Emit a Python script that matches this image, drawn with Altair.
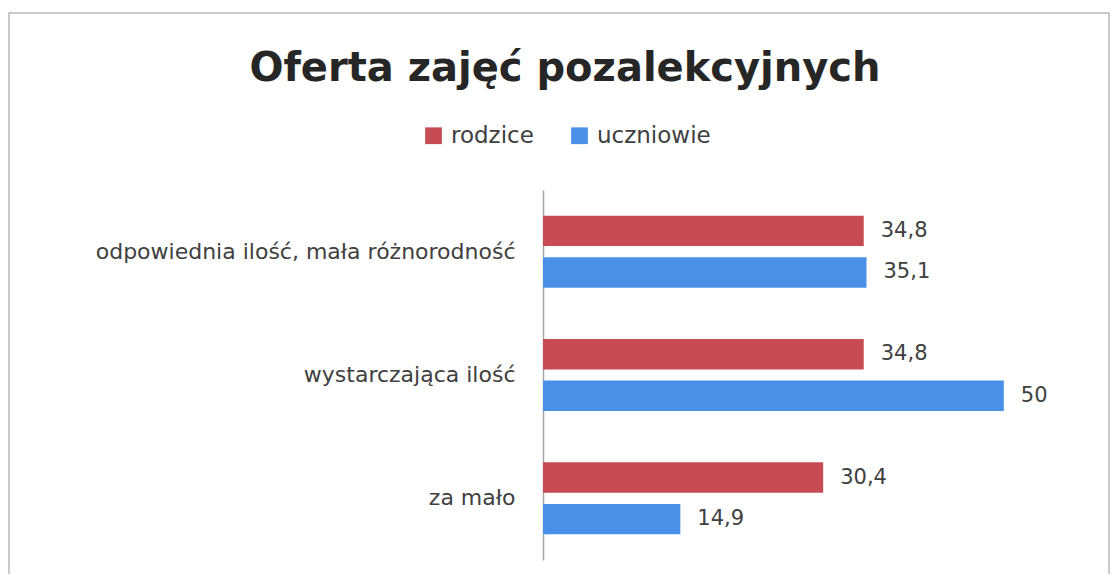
import altair as alt
import pandas as pd

categories = ["odpowiednia ilość, mała różnorodność", "wystarczająca ilość", "za mało"]
series = ["rodzice", "uczniowie"]
rodzice = [34.8, 34.8, 30.4]
uczniowie = [35.1, 50, 14.9]
colors = ["#C64B55", "#4A90E8"]
title_text = "Oferta zajęć pozalekcyjnych"

rows = []
for i, c in enumerate(categories):
    rows.append({"kategoria": c, "grupa": series[0], "wartosc": rodzice[i]})
    rows.append({"kategoria": c, "grupa": series[1], "wartosc": uczniowie[i]})
df = pd.DataFrame(rows)
df["etykieta"] = df["wartosc"].map(lambda v: (f"{v:g}").replace(".", ","))

FONT = "DejaVu Sans"
TXT = "#404040"

y_enc = alt.Y(
    "kategoria:N",
    sort=categories,
    title=None,
    scale=alt.Scale(paddingInner=0.416, paddingOuter=0.208),
    axis=alt.Axis(
        ticks=False,
        grid=False,
        domainColor="#A6A6A6",
        domainWidth=1.5,
        labelFont=FONT,
        labelFontSize=22,
        labelColor=TXT,
        labelPadding=28,
        labelLimit=600,
    ),
)
yoff = alt.YOffset("grupa:N", sort=series, scale=alt.Scale(paddingInner=0.27, paddingOuter=0))
x_enc = alt.X("wartosc:Q", title=None, axis=None, scale=alt.Scale(domain=[0, 60], nice=False))

base = alt.Chart(df)

bars = base.mark_bar().encode(
    y=y_enc,
    yOffset=yoff,
    x=x_enc,
    color=alt.Color(
        "grupa:N",
        sort=series,
        scale=alt.Scale(domain=series, range=colors),
        legend=alt.Legend(
            title=None,
            orient="none",
            direction="horizontal",
            legendX=-121,
            legendY=-66,
            symbolType="square",
            symbolSize=280,
            symbolStrokeWidth=0,
            labelFont=FONT,
            labelFontSize=23,
            labelColor=TXT,
            columnPadding=34,
            labelOffset=6,
        ),
    ),
)

labels = base.mark_text(align="left", baseline="middle", dx=17, font=FONT, fontSize=21, color=TXT).encode(
    y=alt.Y("kategoria:N", sort=categories),
    yOffset=yoff,
    x=x_enc,
    text="etykieta:N",
)

one = pd.DataFrame({"t": [title_text]})
frame = alt.Chart(one).mark_rect(
    fill=None, stroke="#B8B8B8", strokeWidth=1.5
).encode(
    x=alt.value(-534), x2=alt.value(566), y=alt.value(-177), y2=alt.value(420)
)

title = alt.Chart(one).mark_text(
    font=FONT, fontSize=40, fontWeight="bold", color="#262626", align="center", baseline="alphabetic"
).encode(x=alt.value(22), y=alt.value(-109), text="t:N")

chart = (
    alt.layer(frame, title, bars, labels)
    .properties(
        width=553,
        height=370,
        padding={"left": 535, "top": 182, "right": 14, "bottom": 14},
        autosize=alt.AutoSizeParams(type="none"),
        background="white",
    )
    .configure_view(strokeWidth=0, stroke="transparent")
)

chart.save("out.html", embed_options={"renderer": "svg", "actions": False})
